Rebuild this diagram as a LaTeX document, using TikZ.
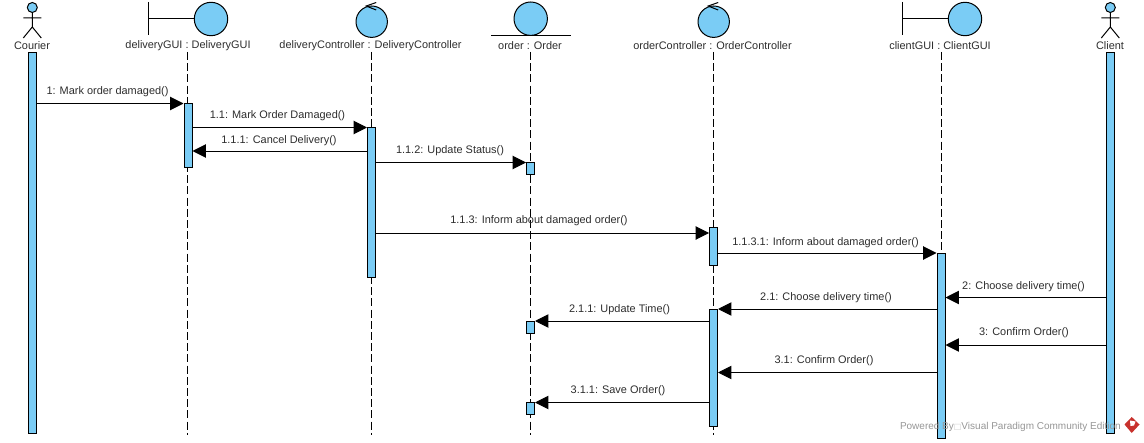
\documentclass[tikz,border=0pt]{standalone}
\usepackage{fontspec}
\setmainfont{Liberation Sans}
\newfontfamily\symfont{DejaVu Sans}
\usetikzlibrary{arrows.meta}
\definecolor{vpblue}{RGB}{122,204,245}
\definecolor{vptext}{RGB}{45,45,45}
\definecolor{vpgray}{RGB}{150,150,150}
\definecolor{vpred}{RGB}{200,50,45}
\tikzset{
  x=0.75pt,y=-0.75pt,
  every path/.style={line width=0.75pt},
  figure/.style={draw=black,fill=vpblue},
  bar/.style={draw=black,fill=vpblue,anchor=north,inner sep=0pt,minimum width=6pt,minimum height=#1*0.75pt},
  lifeline/.style={draw=black,dash pattern=on 6pt off 2.4pt},
  msg/.style={draw=black,-{Triangle[length=10pt,width=10pt]}},
  lbl/.style={text=vptext,font=\fontsize{8.2}{10}\selectfont,inner sep=0pt},
}
\begin{document}
\begin{tikzpicture}
\useasboundingbox (0,0) rectangle (1144,442);
% Actors
\foreach \cx in {32.3,1110.3}{
  \draw[figure] (\cx,7.5) circle[radius=5];
  \draw (\cx,12.5) -- (\cx,27) (\cx-9,18) -- (\cx+9,18) (\cx-9,38) -- (\cx,27) -- (\cx+9,38);
}
% Boundaries
\foreach \bx/\cx in {148.5/211,902.3/965}{
  \draw (\bx,2) -- (\bx,35) (\bx,18.5) -- (\cx-16.7,18.5);
  \draw[figure] (\cx,19) circle[radius=16.7];
}
% Controllers
\foreach \cx in {371.7,713.7}{
  \draw[figure] (\cx,21.7) circle[radius=15.7];
  \draw (\cx+4.5,2.5) -- (\cx-5.5,6) -- (\cx+4.5,10);
}
% Entity
\draw[figure] (530.7,18.7) circle[radius=16.7];
\draw (491,35.3) -- (571,35.3);
% Names
\node[lbl] (nCourier) at (32,46) {Courier};
\node[lbl] (nDG) at (188,46) {deliveryGUI : DeliveryGUI};
\node[lbl] (nDC) at (370.5,46) {deliveryController : DeliveryController};
\node[lbl] (nO) at (530,46) {order : Order};
\node[lbl] (nOC) at (712.5,46) {orderController : OrderController};
\node[lbl] (nCG) at (940,46) {clientGUI : ClientGUI};
\node[lbl] (nClient) at (1110,46) {Client};
% Lifelines
\coordinate (dgTop) at (187.3,52); \coordinate (dgEnd) at (187.3,435);
\coordinate (dcTop) at (371.7,52); \coordinate (dcEnd) at (371.7,435);
\coordinate (oTop) at (530.3,52); \coordinate (oEnd) at (530.3,435);
\coordinate (ocTop) at (713.5,52); \coordinate (ocEnd) at (713.5,435);
\coordinate (cgTop) at (941.3,52); \coordinate (cgEnd) at (941.3,435);
\draw[lifeline] (dgTop) -- (dgEnd);
\draw[lifeline] (dcTop) -- (dcEnd);
\draw[lifeline] (oTop) -- (oEnd);
\draw[lifeline] (ocTop) -- (ocEnd);
\draw[lifeline] (cgTop) -- (cgEnd);
% Activation bars
\node[bar=381] (barCourier) at (32.5,52) {};
\node[bar=381] (barClient) at (1110.5,52) {};
\node[bar=64] (barDG) at (188,103) {};
\node[bar=150] (barDC) at (371.5,127) {};
\node[bar=12] (barO1) at (530.5,162) {};
\node[bar=12] (barO2) at (530.5,321) {};
\node[bar=12] (barO3) at (530.5,402) {};
\node[bar=38] (barOC1) at (713.5,227) {};
\node[bar=117] (barOC2) at (713.5,309) {};
\node[bar=185] (barCG) at (941,253) {};
% Messages
\draw[msg] (barCourier.east |- 0,103.5) -- (barDG.west |- 0,103.5);
\draw[msg] (barDG.east |- 0,127.5) -- (barDC.west |- 0,127.5);
\draw[msg] (barDC.west |- 0,151) -- (barDG.east |- 0,151);
\draw[msg] (barDC.east |- 0,162.5) -- (barO1.west |- 0,162.5);
\draw[msg] (barDC.east |- 0,233) -- (barOC1.west |- 0,233);
\draw[msg] (barOC1.east |- 0,253) -- (barCG.west |- 0,253);
\draw[msg] (barClient.west |- 0,297.5) -- (barCG.east |- 0,297.5);
\draw[msg] (barCG.west |- 0,309) -- (barOC2.east |- 0,309);
\draw[msg] (barOC2.west |- 0,321) -- (barO2.east |- 0,321);
\draw[msg] (barClient.west |- 0,345) -- (barCG.east |- 0,345);
\draw[msg] (barCG.west |- 0,372.5) -- (barOC2.east |- 0,372.5);
\draw[msg] (barOC2.west |- 0,402.5) -- (barO3.east |- 0,402.5);
% Message labels
\node[lbl] (m1) at (107.5,92) {1: Mark order damaged()};
\node[lbl] (m11) at (277.5,116) {1.1: Mark Order Damaged()};
\node[lbl] (m111) at (279,141) {1.1.1: Cancel Delivery()};
\node[lbl] (m112) at (450,151) {1.1.2: Update Status()};
\node[lbl] (m113) at (539,221) {1.1.3: Inform about damaged order()};
\node[lbl] (m1131) at (825.5,243) {1.1.3.1: Inform about damaged order()};
\node[lbl] (m2) at (1023.5,287) {2: Choose delivery time()};
\node[lbl] (m21) at (826,298) {2.1: Choose delivery time()};
\node[lbl] (m211) at (619.5,310) {2.1.1: Update Time()};
\node[lbl] (m3) at (1024,333) {3: Confirm Order()};
\node[lbl] (m31) at (824,361) {3.1: Confirm Order()};
\node[lbl] (m311) at (618,391) {3.1.1: Save Order()};
% Watermark
\node[lbl,text=vpgray,anchor=west,font=\fontsize{7.5}{10}\selectfont] (wm) at (899.5,426.5) {Powered By{\symfont\fontsize{6}{6}\selectfont\textcolor{vpgray!50}{□}}Visual Paradigm Community Edition};
\fill[vpred] (1131.7,417) -- (1139.5,424.5) -- (1131.7,433) -- (1124.5,424.5) -- cycle;
\fill[white] (1130,420.5) -- (1135.5,421.5) -- (1134,425.5) -- (1130.5,426) -- cycle;
\end{tikzpicture}
\end{document}
